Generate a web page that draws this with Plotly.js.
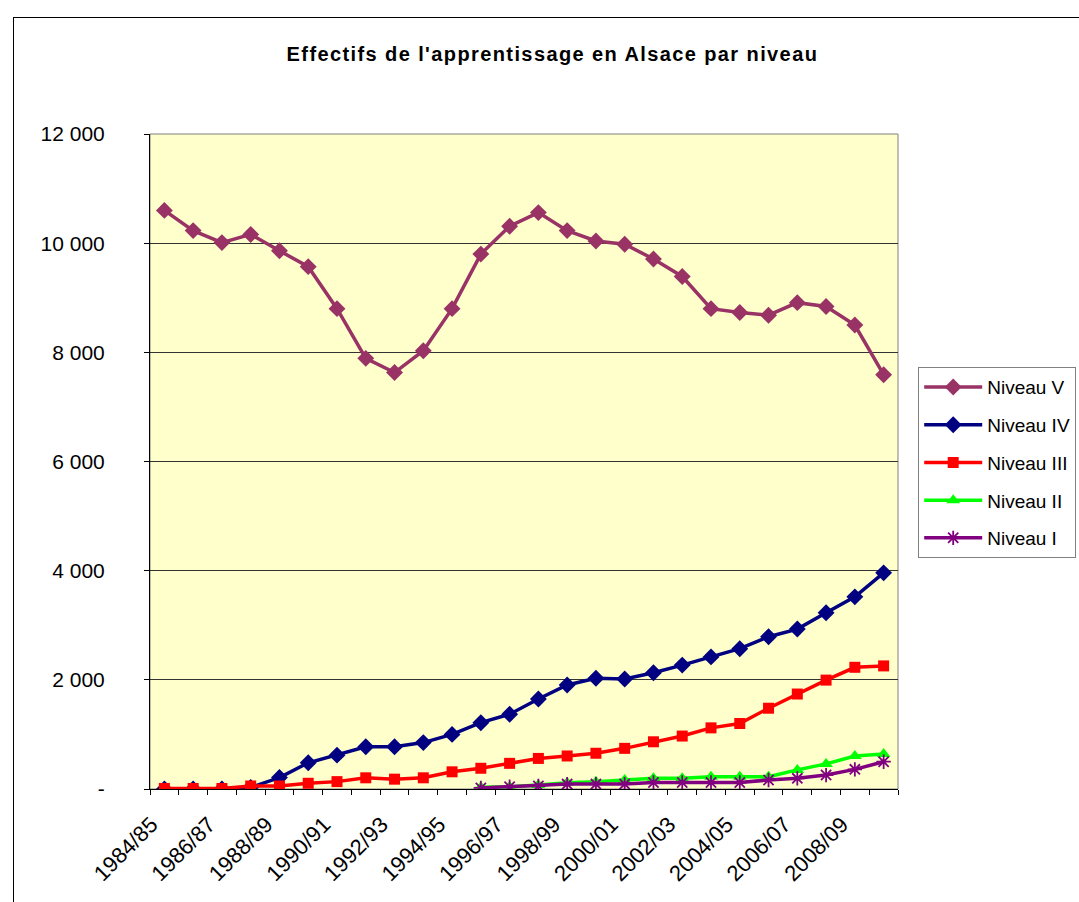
<!DOCTYPE html>
<html>
<head>
<meta charset="utf-8">
<script src="https://cdn.plot.ly/plotly-3.0.1.min.js"></script>
<style>
  html, body { margin: 0; padding: 0; background: #ffffff; }
  #frame { position: absolute; left: 13px; top: 17px; width: 1200px; height: 1000px; border-left: 1px solid #000; border-top: 1px solid #000; pointer-events: none; z-index: 5; }
  #chart { position: absolute; left: 0; top: 0; width: 1079px; height: 902px; }
  #chart .gtitle { letter-spacing: 1.4px; }
</style>
</head>
<body>
<div id="chart"></div>
<div id="frame"></div>
<script>
const years = ["1984/85","1985/86","1986/87","1987/88","1988/89","1989/90","1990/91","1991/92","1992/93","1993/94","1994/95","1995/96","1996/97","1997/98","1998/99","1999/00","2000/01","2001/02","2002/03","2003/04","2004/05","2005/06","2006/07","2007/08","2008/09","2009/10"];
const tickLabels = ["1984/85","","1986/87","","1988/89","","1990/91","","1992/93","","1994/95","","1996/97","","1998/99","","2000/01","","2002/03","","2004/05","","2006/07","","2008/09",""];
const niveauV  = [10600,10230,10010,10160,9860,9570,8800,7890,7630,8030,8800,9800,10310,10560,10230,10040,9980,9710,9390,8800,8730,8680,8910,8840,8500,7590];
const niveauIV = [0,0,0,30,210,480,620,775,775,850,1000,1215,1370,1650,1905,2030,2015,2130,2270,2420,2570,2790,2930,3230,3520,3960];
const niveauIII= [10,10,10,55,55,105,135,205,180,205,315,380,470,560,605,655,745,865,970,1120,1200,1480,1740,1995,2230,2255];
const niveauII = [null,null,null,null,null,null,null,null,null,null,null,30,40,75,115,135,165,195,195,225,225,225,350,460,605,640];
const niveauI  = [null,null,null,null,null,null,null,null,null,null,null,20,40,55,90,90,90,120,120,120,120,165,195,255,360,500];
const yTickVals = [0,2000,4000,6000,8000,10000,12000];
const yTickText = ["-","2 000","4 000","6 000","8 000","10 000","12 000"];

const series = [
  {name:"Niveau V",  y:niveauV,  color:"#993366", symbol:"diamond",     size:13},
  {name:"Niveau IV", y:niveauIV, color:"#000080", symbol:"diamond",     size:13},
  {name:"Niveau III",y:niveauIII,color:"#FF0000", symbol:"square",      size:11},
  {name:"Niveau II", y:niveauII, color:"#00FF00", symbol:"triangle-up", size:12},
  {name:"Niveau I",  y:niveauI,  color:"#800080", symbol:"asterisk-open", size:12}
];
const traces = series.map((s, i) => ({
  type: "scatter", mode: "lines+markers", x: years, y: s.y, name: s.name,
  legendgroup: "g" + i,
  line: {color: s.color, width: 3.5},
  marker: {color: s.color, symbol: s.symbol, size: s.size, line: {color: s.color, width: s.symbol === "asterisk-open" ? 1.8 : 0}},
  connectgaps: false
}));

const pad = "\u00a0\u00a0\u00a0";
const layout = {
  width: 1079, height: 902,
  paper_bgcolor: "rgba(0,0,0,0)",
  plot_bgcolor: "#FFFFCC",
  margin: {l: 150, r: 181, t: 134, b: 113, pad: 0, autoexpand: false},
  font: {family: "Liberation Sans, Arial, sans-serif", color: "#000"},
  title: {text: "<b>Effectifs de l'apprentissage en Alsace par niveau</b>", font: {size: 20, color: "#000"}, x: 0.512, xanchor: "center", y: 0.94, yanchor: "middle"},
  xaxis: {
    type: "category", range: [-0.5, 25.5], tickvals: years, ticktext: tickLabels.map(t => t ? t + pad : ""),
    tickangle: -45, tickson: "boundaries", ticks: "outside", ticklen: 5, tickcolor: "#000",
    showline: true, linecolor: "#000", linewidth: 1, showgrid: false,
    tickfont: {size: 22, color: "#000"}, fixedrange: true, automargin: false
  },
  yaxis: {
    range: [0, 12000], tickvals: yTickVals, ticktext: yTickText,
    ticks: "outside", ticklen: 5, tickcolor: "#000",
    showline: true, linecolor: "#000", linewidth: 1,
    showgrid: true, gridcolor: "#333", gridwidth: 1, zeroline: false,
    tickfont: {size: 21, color: "#000"}, ticklabelstandoff: 35, fixedrange: true, automargin: false
  },
  shapes: [{type: "rect", xref: "paper", yref: "paper", x0: 0, x1: 1, y0: 0, y1: 1, line: {color: "#808080", width: 1}, layer: "below"}],
  legend: {
    x: 1.027, y: 0.644, xanchor: "left", yanchor: "top",
    bgcolor: "#FFFFFF", bordercolor: "#808080", borderwidth: 1,
    font: {size: 19, color: "#000"}, tracegroupgap: 10, traceorder: "grouped", itemwidth: 58
  },
  showlegend: true
};
Plotly.newPlot("chart", traces, layout, {displayModeBar: false, staticPlot: true});
</script>
</body>
</html>
